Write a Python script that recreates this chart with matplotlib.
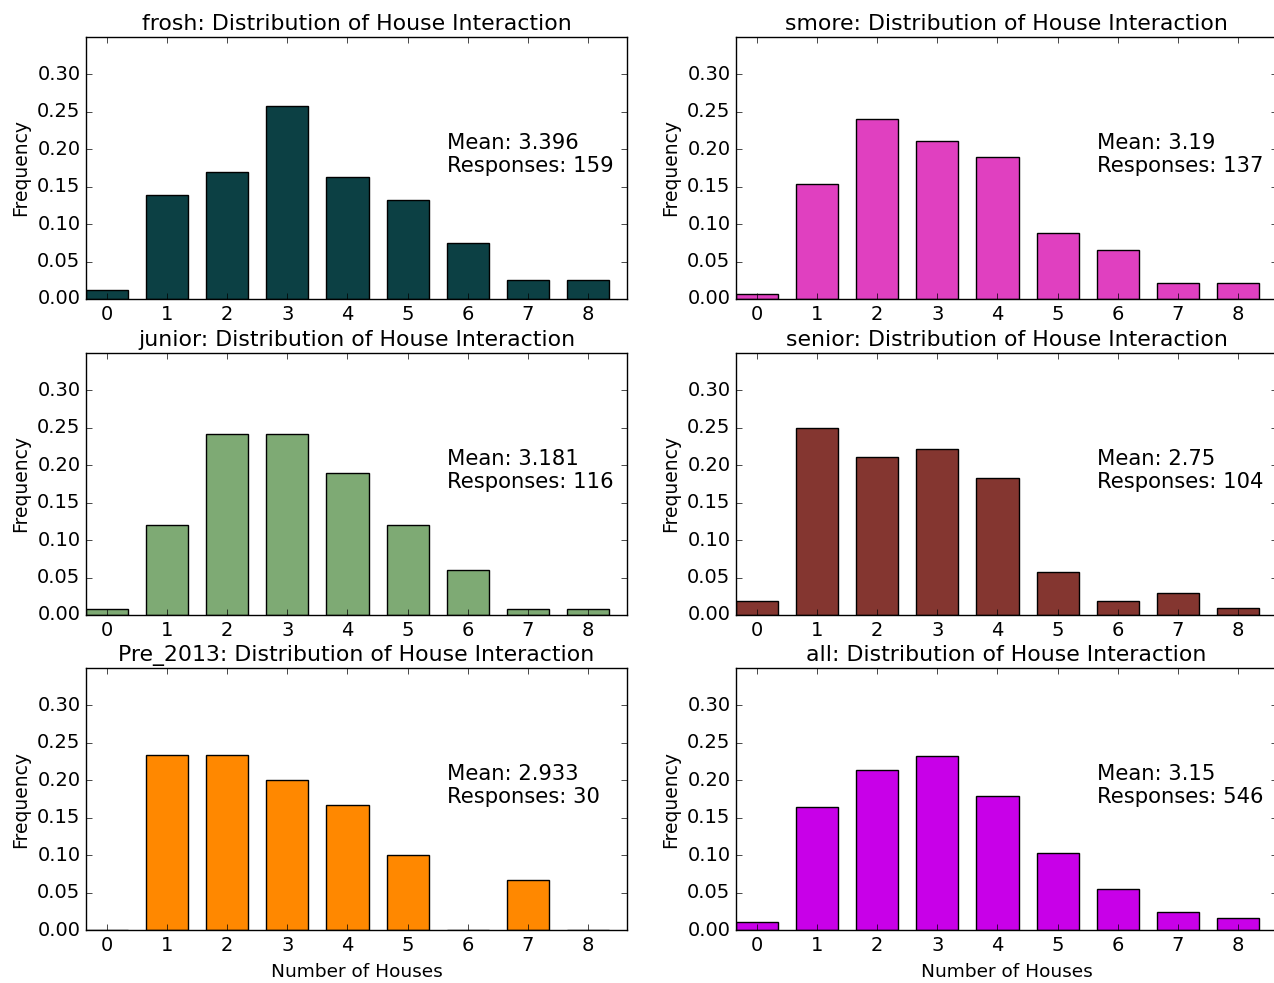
import numpy as np
import matplotlib
matplotlib.use("Agg")
import matplotlib.pyplot as plt

plt.style.use("classic")
plt.rcParams["font.family"] = ["DejaVu Sans"]

# Number of houses interacted with (0-8) and response counts per class year
houses = [0, 1, 2, 3, 4, 5, 6, 7, 8]
groups = ["frosh", "smore", "junior", "senior", "Pre_2013", "all"]
frosh_counts = [2, 22, 27, 41, 26, 21, 12, 4, 4]
smore_counts = [1, 21, 33, 29, 26, 12, 9, 3, 3]
junior_counts = [1, 14, 28, 28, 22, 14, 7, 1, 1]
senior_counts = [2, 26, 22, 23, 19, 6, 2, 3, 1]
pre2013_counts = [0, 7, 7, 6, 5, 3, 0, 2, 0]
all_counts = [6, 90, 117, 127, 98, 56, 30, 13, 9]
colors = ["#0c4044", "#e040c0", "#7eaa74", "#843630", "#ff8800", "#c800e8"]

counts = [frosh_counts, smore_counts, junior_counts,
          senior_counts, pre2013_counts, all_counts]

W, H = 1274, 983
fig = plt.figure(figsize=(W / 100, H / 100), dpi=100)
fig.patch.set_facecolor("white")

col_left = [86, 736]
row_top = [37, 353, 668]
ax_w, ax_h = 541, 262

for i, (name, c, col) in enumerate(zip(groups, counts, colors)):
    r, k = divmod(i, 2)
    x0 = col_left[k] / W
    y0 = 1 - (row_top[r] + ax_h) / H
    ax = fig.add_axes([x0, y0, ax_w / W, ax_h / H])
    c = np.array(c, dtype=float)
    n = int(c.sum())
    freq = c / n
    mean = float((np.array(houses) * c).sum() / n)
    ax.bar(houses, freq, width=0.7, align="center", color=col,
           edgecolor="black", linewidth=1.0)
    ax.set_xlim(-0.35, 8.65)
    ax.set_ylim(0, 0.35)
    ax.set_xticks(houses)
    ax.set_yticks(np.arange(0, 0.31, 0.05))
    ax.set_yticklabels([f"{v:.2f}" for v in np.arange(0, 0.31, 0.05)])
    ax.tick_params(labelsize=14, direction="in", top=True, right=True)
    ax.set_title(f"{name}: Distribution of House Interaction", fontsize=15.8)
    ax.set_ylabel("Frequency", fontsize=13.5)
    if r == 2:
        ax.set_xlabel("Number of Houses", fontsize=13.3, labelpad=6)
    ax.text(0.667, 0.55, f"Mean: {round(mean, 3):g}\nResponses: {n}",
            transform=ax.transAxes, fontsize=15.2, va="center", ha="left",
            linespacing=1.2)

fig.savefig("out.png", dpi=100, facecolor="white")
